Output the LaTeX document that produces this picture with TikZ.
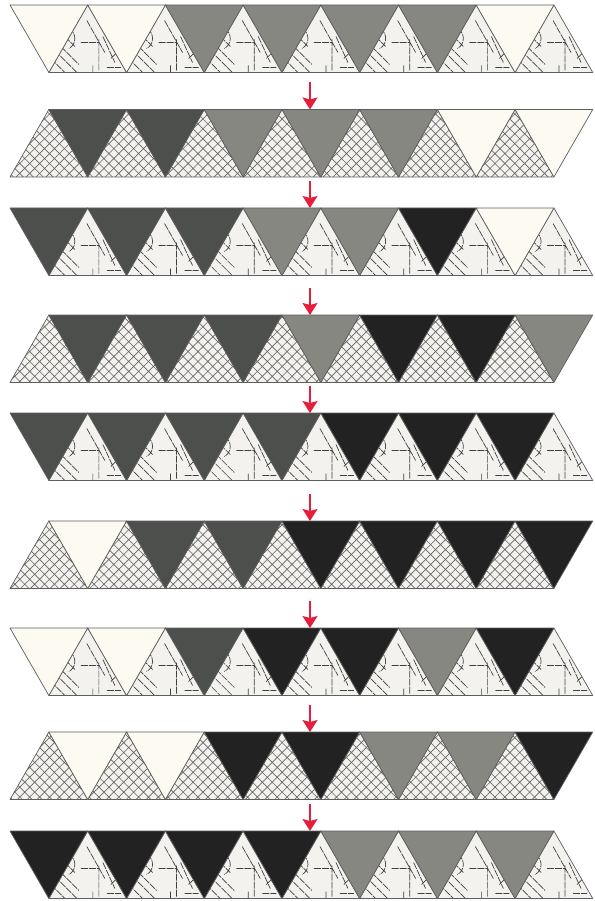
\documentclass[tikz,border=0pt]{standalone}
\usetikzlibrary{patterns.meta,arrows.meta}
\definecolor{quiltcream}{HTML}{FDFAF1}
\definecolor{quiltgray}{HTML}{878782}
\definecolor{quiltdark}{HTML}{4D4F4C}
\definecolor{quiltblack}{HTML}{222222}
\definecolor{quiltwhite}{HTML}{F3F2EF}
\definecolor{seamline}{HTML}{5E5E5E}
\definecolor{steparrow}{HTML}{E61E3C}
\colorlet{qc}{quiltcream}
\colorlet{qg}{quiltgray}
\colorlet{qd}{quiltdark}
\colorlet{qb}{quiltblack}

\tikzdeclarepattern{
  name=lattice, type=uncolored,
  bottom left={(-.5pt,-.5pt)}, top right={(7.5pt,7.5pt)},
  tile size={(7pt,7pt)}, tile transformation={rotate=45},
  code={\draw[line width=0.65pt] (0pt,3.5pt) -- (7pt,3.5pt) (3.5pt,0pt) -- (3.5pt,7pt);}}

\begin{document}
\begin{tikzpicture}[x=1pt,y=-1pt,
  seam/.style={draw=seamline, line width=0.7pt, line join=round},
  sketch/.style={black!75, line width=0.7pt, dash pattern=on 7pt off 1pt},
  stepline/.style={steparrow, line width=1.8pt,
                   -{Stealth[width=15pt,length=12pt,inset=2pt]}}]
  \useasboundingbox (0,0) rectangle (594,901);
  \def\tw{77.7}
  \def\th{67.5}
  % one strip per row: up patches first, then the coloured down patches
  \foreach \r/\top/\lean/\cols in {
      1/5/0/{qc,qc,qg,qg,qg,qg,qc},
      2/109.5/1/{qd,qd,qg,qg,qg,qc,qc},
      3/208/0/{qd,qd,qd,qg,qg,qb,qc},
      4/315/1/{qd,qd,qd,qg,qb,qb,qg},
      5/413/0/{qd,qd,qd,qd,qb,qb,qb},
      6/521/1/{qc,qd,qd,qb,qb,qb,qb},
      7/628/0/{qc,qc,qd,qb,qb,qg,qb},
      8/732/1/{qc,qc,qb,qb,qg,qg,qb},
      9/831/0/{qb,qb,qb,qb,qg,qg,qg}}{
    \pgfmathsetmacro{\bot}{\top+\th}
    \pgfmathsetmacro{\dx}{10+\lean*\tw/2}
    \pgfmathsetmacro{\ux}{10+(1-\lean)*\tw/2}
    \coordinate (top\r) at (310,\top);
    \coordinate (bot\r) at (310,\bot);
    \foreach \k in {0,...,6}{
      \pgfmathsetmacro{\ul}{\ux+\k*\tw}
      \begin{scope}[shift={(\ul,\bot)}, yscale=-1]
        \fill[quiltwhite] (0,0) -- (\tw,0) -- (\tw/2,\th) -- cycle;
        \begin{scope}
          \clip (0,0) -- (\tw,0) -- (\tw/2,\th) -- cycle;
          \ifodd\r
            \draw[sketch] (2,14) -- (16,0) (6,22) -- (28,0) (12,26) -- (30,8)
              (16,36) -- (26,26) (50,2) -- (50,34) (32,30) -- (50,30)
              (38,52) -- (56,20) (44,0) -- (44,8) (58,5) -- (72,5)
              (62,14) -- (70,22) (54,36) -- (66,10)
              (20,44) .. controls (28,40) and (28,28) .. (20,24);
          \else
            \fill[pattern=lattice, pattern color=black!60]
              (0,0) rectangle (\tw,\th);
          \fi
        \end{scope}
        \draw[seam] (0,0) -- (\tw,0) -- (\tw/2,\th) -- cycle;
      \end{scope}
    }
    \foreach \c [count=\k from 0] in \cols {
      \pgfmathsetmacro{\dl}{\dx+\k*\tw}
      \draw[seam, fill=\c] (\dl,\top) -- ++(\tw,0) -- ++(-\tw/2,\th) -- cycle;
    }
  }
  % red step arrows between the strips
  \foreach \r [evaluate=\r as \n using int(\r+1)] in {1,...,8}
    \draw[stepline] ([yshift=27pt]top\n) -- (top\n);
\end{tikzpicture}
\end{document}
